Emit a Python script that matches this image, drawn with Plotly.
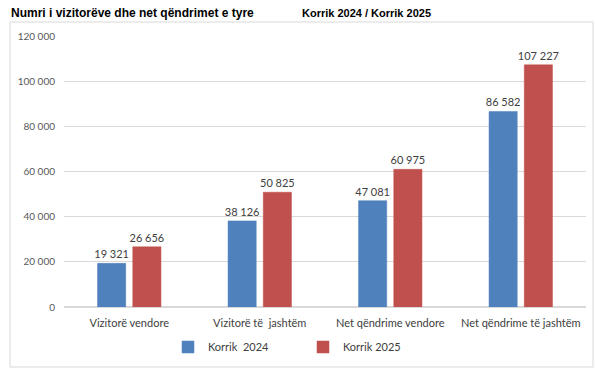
import plotly.graph_objects as go

categories = ["Vizitorë vendore", "Vizitorë të  jashtëm", "Net qëndrime vendore", "Net qëndrime të jashtëm"]
values_2024 = [19321, 38126, 47081, 86582]
values_2025 = [26656, 50825, 60975, 107227]
series_names = ["Korrik  2024", "Korrik 2025"]
y_ticks = [0, 20000, 40000, 60000, 80000, 100000, 120000]

def fmt(v):
    return f"{v:,}".replace(",", " ")

FONT = "Liberation Sans, Arial, sans-serif"
LABEL_FONT = "Lato, Arial, sans-serif"

fig = go.Figure()
for name, vals, color in [(series_names[0], values_2024, "#4F81BD"), (series_names[1], values_2025, "#C0504D")]:
    fig.add_trace(go.Bar(
        x=categories, y=vals, name=name,
        marker=dict(color=color, line=dict(color=color, width=0.5)),
        text=[fmt(v) for v in vals], textposition="outside", constraintext="none",
        textfont=dict(size=11, color="#404040", family=LABEL_FONT),
        cliponaxis=False,
    ))

L, R, T, B = 64, 9, 36, 68
W, H = 595, 375
pw = W - L - R
ph = H - T - B

def px(x):
    return (x - L) / pw

def py(y):
    return (H - B - y) / ph

fig.update_layout(
    width=W, height=H,
    margin=dict(l=L, r=R, t=T, b=B, pad=0),
    paper_bgcolor="white", plot_bgcolor="white",
    barmode="group", bargap=0.46, bargroupgap=0.2,
    font=dict(family=LABEL_FONT, size=10, color="#595959"),
    showlegend=True,
    legend=dict(orientation="h", x=px(168), xanchor="left", y=py(347), yanchor="middle",
                entrywidth=90, itemwidth=30, font=dict(size=11, color="#404040", family=LABEL_FONT),
                bgcolor="rgba(0,0,0,0)", traceorder="normal"),
    xaxis=dict(showgrid=False, showline=True, linecolor="#d9d9d9", linewidth=1, ticks="",
               tickfont=dict(size=11, color="#404040", family=LABEL_FONT), ticklabelstandoff=6,
               fixedrange=True),
    yaxis=dict(range=[0, 120000], tickvals=y_ticks, ticktext=[fmt(v) for v in y_ticks],
               showgrid=True, gridcolor="#d9d9d9", gridwidth=1, zeroline=True, zerolinecolor="#d9d9d9",
               showline=False, ticks="", tickfont=dict(size=10, color="#595959", family=LABEL_FONT),
               ticklabelstandoff=8, fixedrange=True),
    shapes=[dict(type="rect", xref="paper", yref="paper",
                 x0=px(10), x1=px(593), y0=py(367), y1=py(22),
                 line=dict(color="#d9d9d9", width=1), fillcolor="rgba(0,0,0,0)", layer="below")],
    annotations=[
        dict(text="<b>Numri i vizitorëve dhe net qëndrimet e tyre</b>", xref="paper", yref="paper",
             x=px(9), y=py(13), xanchor="left", yanchor="middle", showarrow=False,
             font=dict(family=FONT, size=12, color="#000000")),
        dict(text="<b>Korrik 2024 / Korrik 2025</b>", xref="paper", yref="paper",
             x=px(300), y=py(13), xanchor="left", yanchor="middle", showarrow=False,
             font=dict(family=FONT, size=11, color="#000000")),
    ],
)

fig.write_html("out.html", config={"displayModeBar": False},
               post_script="document.body.style.margin='0px';document.body.style.overflow='hidden';")
